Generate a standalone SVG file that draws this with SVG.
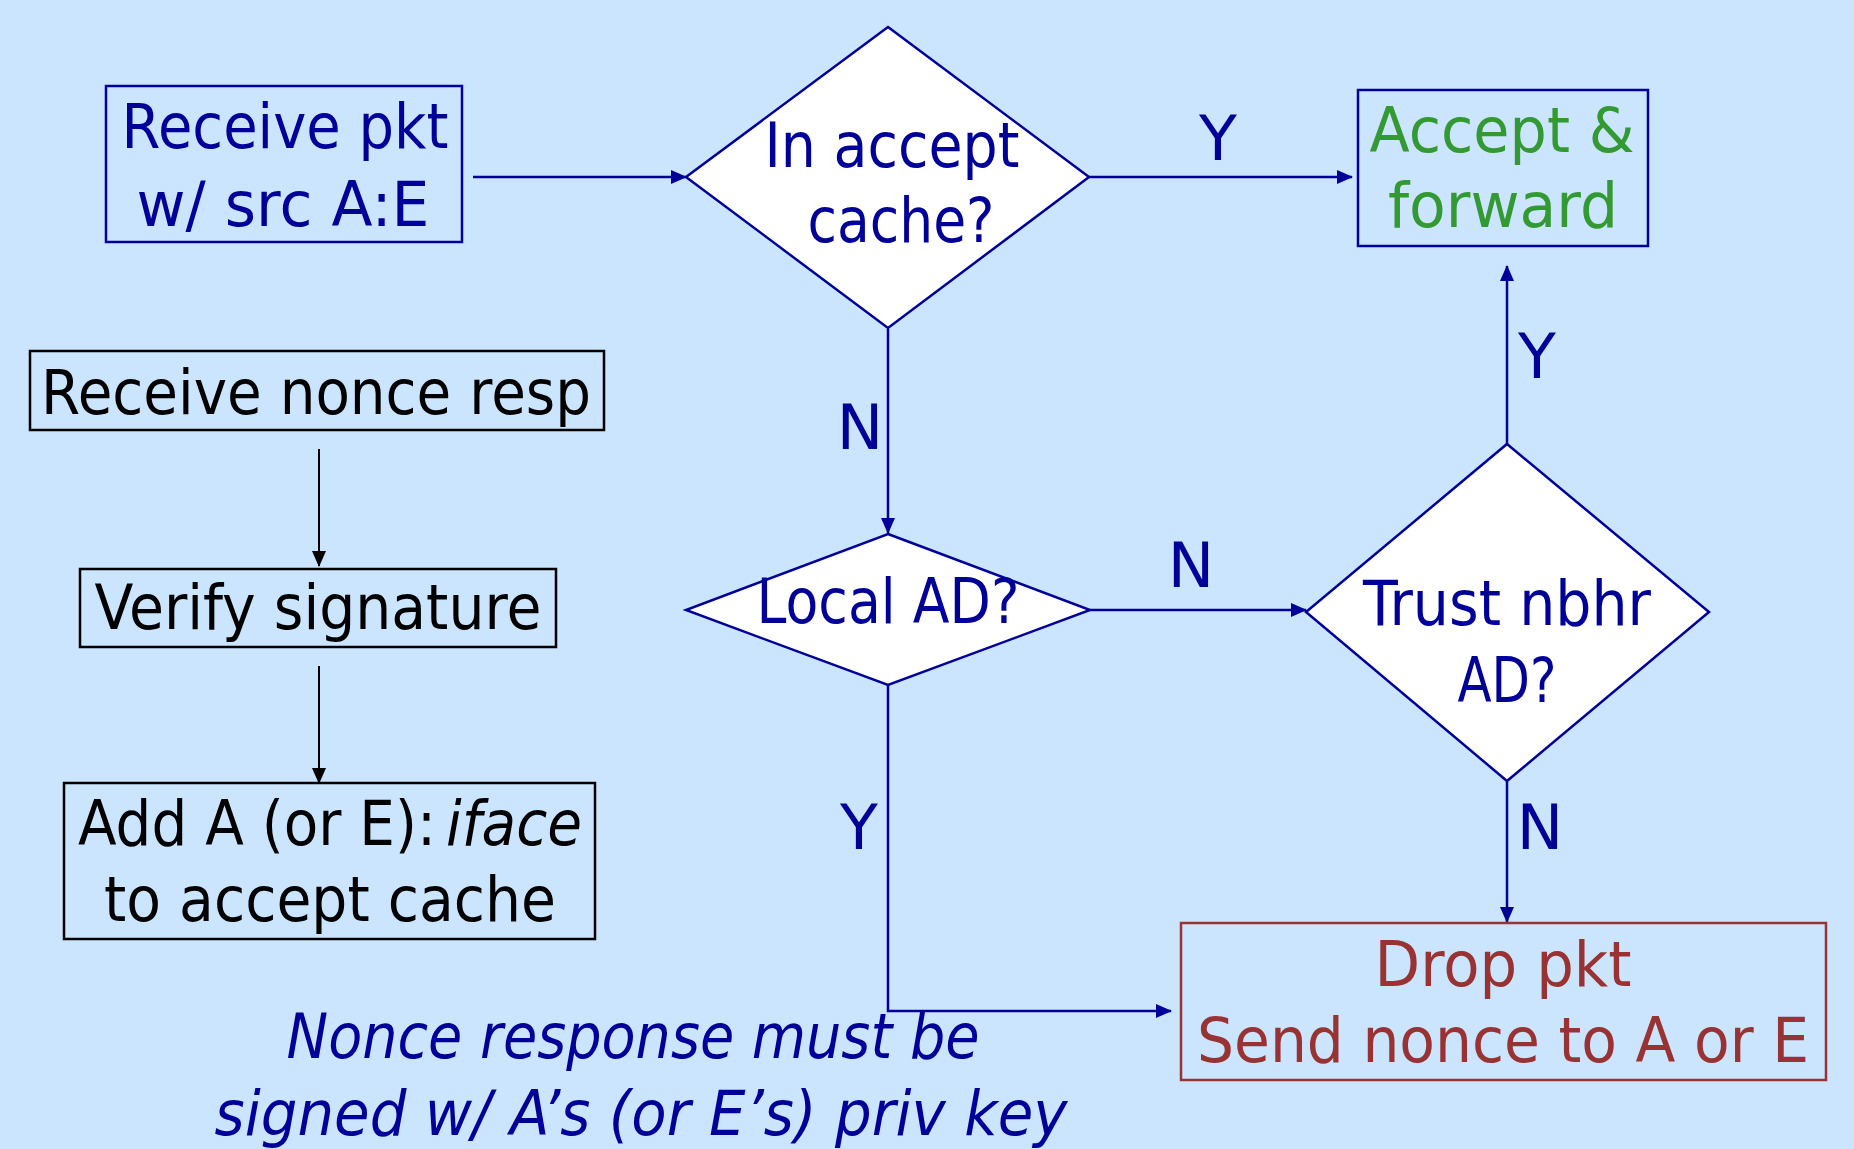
<svg xmlns="http://www.w3.org/2000/svg" width="1854" height="1149" viewBox="0 0 1854 1149">
<style>
text{font-family:"DejaVu Sans","Liberation Sans",sans-serif;font-size:62px;text-anchor:middle}
.b{fill:#000099}
.k{fill:#000000}
.g{fill:#339933}
.r{fill:#993333}
.it{font-style:italic}
.box{fill:none;stroke:#000099;stroke-width:2.5}
.kbox{fill:none;stroke:#000000;stroke-width:2.5}
.rbox{fill:none;stroke:#993333;stroke-width:2.5}
.dia{fill:#ffffff;stroke:#000099;stroke-width:2.5}
.c{fill:none;stroke:#000099;stroke-width:2.5}
.ck{fill:none;stroke:#000000;stroke-width:2}
</style>
<defs>
<marker id="ab" markerUnits="userSpaceOnUse" markerWidth="16" markerHeight="14" refX="15" refY="7" orient="auto"><path d="M0,0 L16,7 L0,14 Z" fill="#000099"/></marker>
<marker id="ak" markerUnits="userSpaceOnUse" markerWidth="16" markerHeight="14" refX="15" refY="7" orient="auto"><path d="M0,0 L16,7 L0,14 Z" fill="#000000"/></marker>
</defs>
<rect x="0" y="0" width="1854" height="1149" fill="#CCE5FF"/>
<g id="connectors">
<path class="c" d="M473,177 L686,177" marker-end="url(#ab)"/>
<path class="c" d="M1089,177 L1352,177" marker-end="url(#ab)"/>
<path class="c" d="M888,329 L888,533" marker-end="url(#ab)"/>
<path class="c" d="M1090,610 L1306,610" marker-end="url(#ab)"/>
<path class="c" d="M1507,444 L1507,266" marker-end="url(#ab)"/>
<path class="c" d="M1507,782 L1507,922" marker-end="url(#ab)"/>
<path class="c" d="M888,685 L888,1011 L1171,1011" marker-end="url(#ab)"/>
<path class="ck" d="M319,449 L319,566" marker-end="url(#ak)"/>
<path class="ck" d="M319,666 L319,783" marker-end="url(#ak)"/>
<text class="b" x="1218" y="160">Y</text>
<text class="b" x="860" y="449">N</text>
<text class="b" x="1191" y="587">N</text>
<text class="b" x="1537" y="378">Y</text>
<text class="b" x="1540" y="849">N</text>
<text class="b" x="859" y="849">Y</text>
</g>
<g id="receive-pkt">
<rect class="box" x="106" y="86" width="356" height="156"/>
<text class="b" x="285" y="148" textLength="327" lengthAdjust="spacingAndGlyphs">Receive pkt</text>
<text class="b" x="283" y="226" textLength="293" lengthAdjust="spacingAndGlyphs">w/ src A:E</text>
</g>
<g id="in-accept-cache">
<polygon class="dia" points="888,27 1089,177 888,328 686,177"/>
<text class="b" x="892" y="167" textLength="255" lengthAdjust="spacingAndGlyphs">In accept</text>
<text class="b" x="901" y="242" textLength="187" lengthAdjust="spacingAndGlyphs">cache?</text>
</g>
<g id="accept-forward">
<rect class="box" x="1358" y="90" width="290" height="156"/>
<text class="g" x="1502" y="152" textLength="265" lengthAdjust="spacingAndGlyphs">Accept &amp;</text>
<text class="g" x="1503" y="227" textLength="230" lengthAdjust="spacingAndGlyphs">forward</text>
</g>
<g id="local-ad">
<polygon class="dia" points="888,534 1090,610 888,685 686,610"/>
<text class="b" x="888" y="623" textLength="263" lengthAdjust="spacingAndGlyphs">Local AD?</text>
</g>
<g id="trust-nbhr">
<polygon class="dia" points="1507,444 1709,612 1507,781 1306,612"/>
<text class="b" x="1507" y="625" textLength="288" lengthAdjust="spacingAndGlyphs">Trust nbhr</text>
<text class="b" x="1507" y="702" textLength="99" lengthAdjust="spacingAndGlyphs">AD?</text>
</g>
<g id="drop-pkt">
<rect class="rbox" x="1181" y="923" width="645" height="157"/>
<text class="r" x="1503" y="986" textLength="257" lengthAdjust="spacingAndGlyphs">Drop pkt</text>
<text class="r" x="1503" y="1062" textLength="612" lengthAdjust="spacingAndGlyphs">Send nonce to A or E</text>
</g>
<g id="receive-nonce-resp">
<rect class="kbox" x="30" y="351" width="574" height="79"/>
<text class="k" x="316" y="414" textLength="550" lengthAdjust="spacingAndGlyphs">Receive nonce resp</text>
</g>
<g id="verify-signature">
<rect class="kbox" x="80" y="569" width="476" height="78"/>
<text class="k" x="318" y="629" textLength="447" lengthAdjust="spacingAndGlyphs">Verify signature</text>
</g>
<g id="add-to-cache">
<rect class="kbox" x="64" y="783" width="531" height="156"/>
<text class="k" x="257" y="845" textLength="358" lengthAdjust="spacingAndGlyphs">Add A (or E):</text>
<text class="k it" x="514" y="845" textLength="136" lengthAdjust="spacingAndGlyphs">iface</text>
<text class="k" x="330" y="921" textLength="452" lengthAdjust="spacingAndGlyphs">to accept cache</text>
</g>
<g id="caption">
<text class="b it" x="633" y="1058" textLength="693" lengthAdjust="spacingAndGlyphs">Nonce response must be</text>
<text class="b it" x="641" y="1135" textLength="853" lengthAdjust="spacingAndGlyphs">signed w/ A’s (or E’s) priv key</text>
</g>
</svg>
